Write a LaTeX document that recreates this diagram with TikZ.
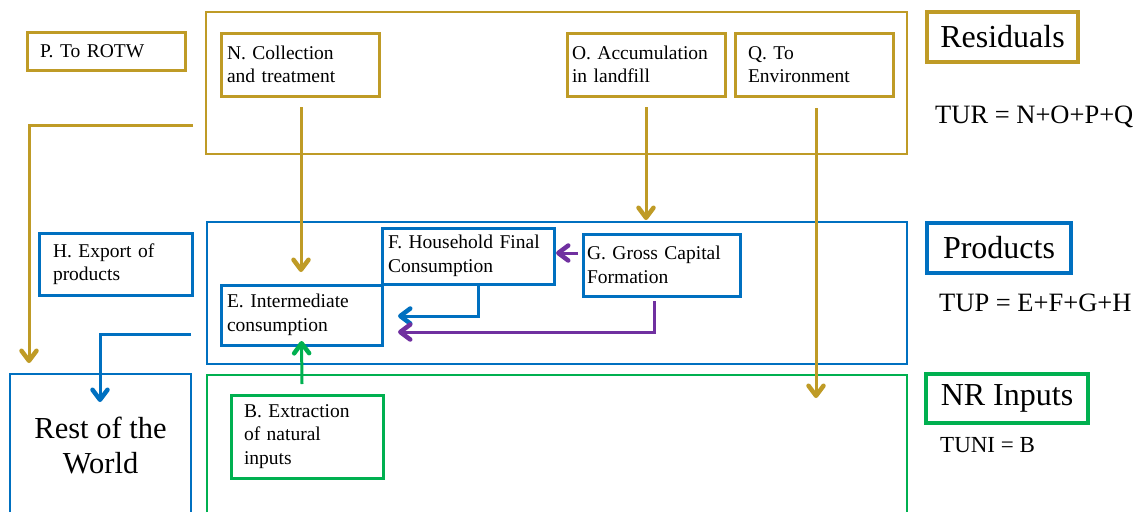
\documentclass[tikz,border=0pt]{standalone}
\usepackage{fontspec}
\setmainfont{Liberation Serif}
\usetikzlibrary{arrows.meta}
\definecolor{gold}{RGB}{191,155,38}
\definecolor{pblue}{RGB}{0,112,192}
\definecolor{pgreen}{RGB}{0,176,80}
\definecolor{ppurple}{RGB}{112,48,160}
\frenchspacing
\begin{document}
\begin{tikzpicture}[x=1pt,y=-1pt,
  bx/.style={draw, line width=3pt, outer sep=0pt, anchor=north west, align=left, inner ysep=0pt,
    font=\fontsize{19.5}{23.5}\selectfont},
  region/.style={line width=1.3pt},
  lbl/.style={draw, line width=3.3pt, outer sep=0pt, anchor=north west, inner sep=0pt,
    font=\fontsize{32}{36}\selectfont},
  conn/.style={line width=3pt, -{Straight Barb[length=10pt,width=15pt,line width=4.5pt,round]}},
  formula/.style={anchor=base west, inner sep=0pt, font=\fontsize{26.5}{30}\selectfont}]

\useasboundingbox (0,0) rectangle (1148,512);

% regions
\draw[region, gold] (206,12) rectangle (907,154);
\draw[region, pblue] (207,222) rectangle (907,364);
\draw[region, pgreen] (207,512) |- (907,375) -- (907,512);
\draw[region, pblue] (10,512) |- (191,374) -- (191,512);
\node[align=center, font=\fontsize{30.5}{35}\selectfont] (RotW) at (100.5,445) {Rest of the\\World};

% residual boxes
\node[bx, draw=gold, text width=132pt, inner xsep=13pt, minimum height=38pt] (P) at (27,32) {P. To ROTW};
\node[bx, draw=gold, text width=146pt, inner xsep=6pt, minimum height=63pt] (N) at (221,33) {N. Collection\\and treatment};
\node[bx, draw=gold, text width=148pt, inner xsep=5pt, minimum height=63pt] (O) at (567,33) {O. Accumulation\\in landfill};
\node[bx, draw=gold, text width=132pt, inner xsep=13pt, minimum height=63pt] (Q) at (735,33) {Q. To\\Environment};

% product boxes
\node[bx, draw=pblue, text width=125pt, inner xsep=14pt, minimum height=62pt] (H) at (39,233) {H. Export of\\products};
\node[bx, draw=pblue, text width=160pt, inner xsep=6pt, minimum height=56pt] (F) at (382,228) {F. Household Final\\Consumption};
\node[bx, draw=pblue, text width=149pt, inner xsep=4pt, minimum height=62pt] (G) at (583,234) {G. Gross Capital\\Formation};
\node[bx, draw=pblue, text width=149pt, inner xsep=6pt, minimum height=60pt] (E) at (221,285) {E. Intermediate\\consumption};

% NR inputs box
\node[bx, draw=pgreen, text width=126pt, inner xsep=13pt, minimum height=83pt] (B) at (231,395) {B. Extraction\\of natural\\inputs};

% legend labels
\node[lbl, draw=gold, minimum width=151pt, minimum height=50pt] (LR) at (927,12) {Residuals};
\node[formula] (TUR) at (935,123) {TUR = N+O+P+Q};
\node[lbl, draw=pblue, minimum width=144pt, minimum height=50pt] (LP) at (927,223) {Products};
\node[formula] (TUP) at (939,311) {TUP = E+F+G+H};
\node[lbl, draw=pgreen, minimum width=162pt, minimum height=49pt] (LN) at (926,374) {NR Inputs};
\node[formula, font=\fontsize{23}{27}\selectfont] (TUNI) at (940,452) {TUNI = B};

% connectors
\coordinate (resout) at (193,125);
\coordinate (prodout) at (191,334);
\draw[conn, gold] (resout) -- (29,125) -- (29,363);
\draw[conn, gold] ([xshift=1pt,yshift=-11pt]N.south) -- ++(0,165);
\draw[conn, gold] ([yshift=-11pt]O.south) -- ++(0,113);
\draw[conn, gold] ([xshift=2pt,yshift=-12pt]Q.south) -- ++(0,290);
\draw[conn, pblue] (prodout) -| ([yshift=11pt]RotW.north -| 100,0);
\draw[conn, pblue] ([xshift=10pt]F.south) |- ([xshift=16pt,yshift=-1pt]E.east);
\draw[conn, ppurple] ([xshift=-7pt,yshift=-5pt]G.south) |- ([xshift=16pt,yshift=-17pt]E.east);
\draw[conn, ppurple] ([xshift=-5pt,yshift=12pt]G.west) -- ([xshift=2pt,yshift=3pt]F.east);
\draw[conn, pgreen] ([xshift=-5pt,yshift=11pt]B.north) -- ([yshift=4pt]E.south);
\end{tikzpicture}
\end{document}
